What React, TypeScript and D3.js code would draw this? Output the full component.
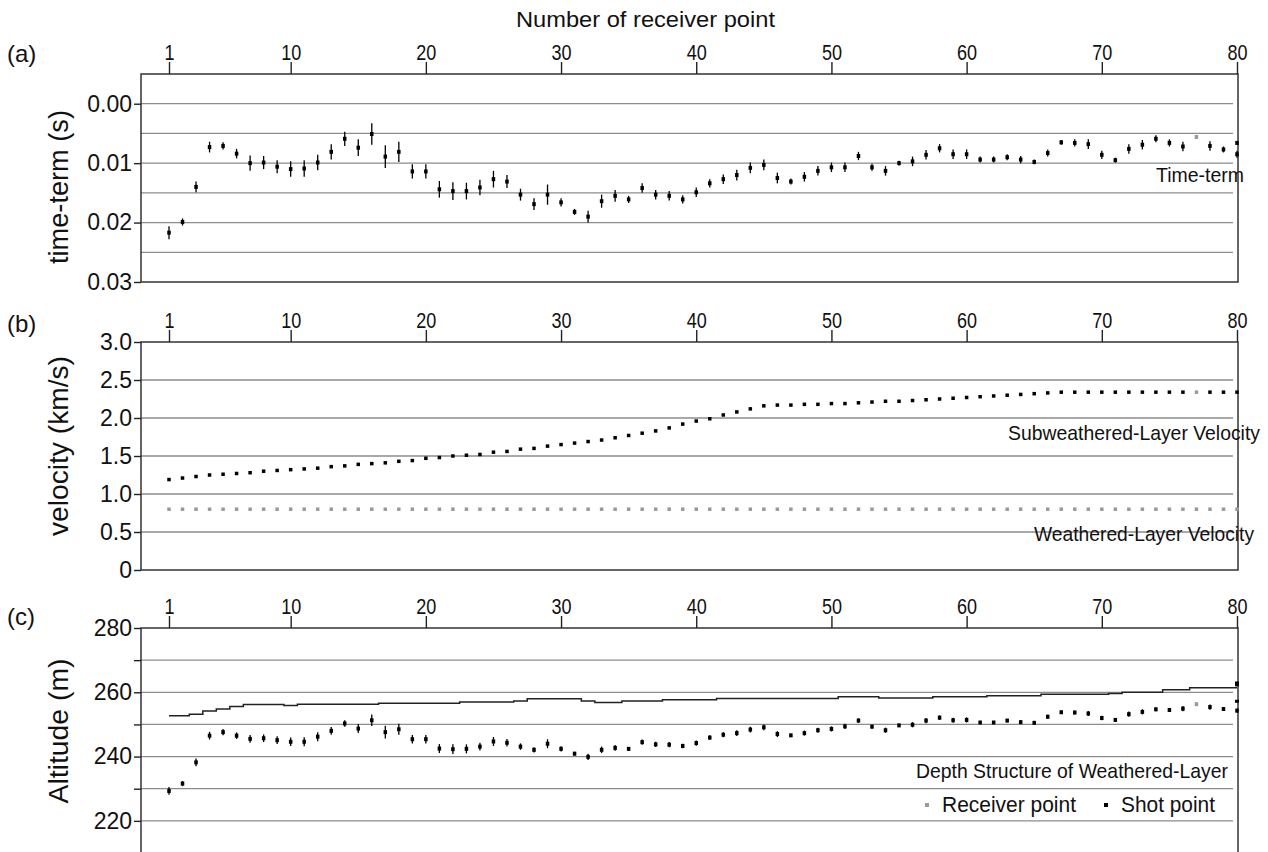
import React, { useRef, useEffect } from "react";
import * as d3 from "d3";

// receiver point numbers along the line
const receiverNo = d3.range(1, 81);
const topTicks = [1, 10, 20, 30, 40, 50, 60, 70, 80];

// (a) time-term (s) and its error
const timeTerm = [
  0.0217, 0.0199, 0.014, 0.0073, 0.0071, 0.0084, 0.01, 0.0099, 0.0106, 0.011,
  0.0109, 0.0099, 0.0081, 0.0059, 0.0074, 0.0051, 0.0089, 0.0081, 0.0114, 0.0114,
  0.0144, 0.0147, 0.0147, 0.0141, 0.0127, 0.0131, 0.0153, 0.0169, 0.0153, 0.0166,
  0.0182, 0.019, 0.0164, 0.0155, 0.0161, 0.0142, 0.0153, 0.0155, 0.0161, 0.0149,
  0.0134, 0.0127, 0.012, 0.0108, 0.0103, 0.0125, 0.0131, 0.0123, 0.0113, 0.0107,
  0.0107, 0.0088, 0.0107, 0.0113, 0.01, 0.0097, 0.0086, 0.0075, 0.0085, 0.0085,
  0.0094, 0.0094, 0.009, 0.0094, 0.0098, 0.0083, 0.0065, 0.0066, 0.0068, 0.0086,
  0.0095, 0.0076, 0.0069, 0.0059, 0.0066, 0.0072, 0.0056, 0.0071, 0.0077, 0.0085,
];
const timeTermErr = [
  0.0011, 0.0006, 0.0009, 0.0009, 0.0006, 0.0008, 0.0013, 0.0011, 0.0011, 0.0013,
  0.0014, 0.0013, 0.0013, 0.0012, 0.0014, 0.0018, 0.0019, 0.0017, 0.0012, 0.0012,
  0.0014, 0.0015, 0.0014, 0.0013, 0.0014, 0.0011, 0.001, 0.001, 0.0017, 0.0007,
  0.0005, 0.001, 0.0011, 0.001, 0.0006, 0.0008, 0.0008, 0.0008, 0.0007, 0.0008,
  0.0007, 0.0008, 0.0009, 0.0009, 0.0009, 0.0009, 0.0005, 0.0008, 0.0008, 0.0008,
  0.0008, 0.0007, 0.0006, 0.0008, 0.0004, 0.0008, 0.0008, 0.0007, 0.0008, 0.0008,
  0.0005, 0.0005, 0.0005, 0.0006, 0.0004, 0.0006, 0.0004, 0.0006, 0.0008, 0.0007,
  0.0004, 0.0008, 0.0008, 0.0006, 0.0006, 0.0008, 0, 0.0008, 0.0005, 0.0006,
];
const extraTimeTerm = [{ n: 80, v: 0.0066 }];

// (b) velocities (km/s)
const subweatheredVelocity = [
  1.19, 1.21, 1.23, 1.25, 1.26, 1.27, 1.28, 1.3, 1.31, 1.32,
  1.33, 1.34, 1.36, 1.37, 1.39, 1.4, 1.41, 1.43, 1.44, 1.47,
  1.48, 1.5, 1.51, 1.52, 1.55, 1.56, 1.59, 1.6, 1.63, 1.65,
  1.67, 1.69, 1.71, 1.74, 1.77, 1.8, 1.83, 1.87, 1.92, 1.96,
  1.99, 2.04, 2.08, 2.12, 2.16, 2.17, 2.17, 2.18, 2.18, 2.19,
  2.19, 2.2, 2.21, 2.22, 2.22, 2.23, 2.24, 2.25, 2.26, 2.27,
  2.28, 2.29, 2.3, 2.31, 2.32, 2.33, 2.34, 2.34, 2.34, 2.34,
  2.34, 2.34, 2.34, 2.34, 2.34, 2.34, 2.34, 2.34, 2.34, 2.34,
];
const weatheredVelocity = [
  0.8, 0.8, 0.8, 0.8, 0.8, 0.8, 0.8, 0.8, 0.8, 0.8,
  0.8, 0.8, 0.8, 0.8, 0.8, 0.8, 0.8, 0.8, 0.8, 0.8,
  0.8, 0.8, 0.8, 0.8, 0.8, 0.8, 0.8, 0.8, 0.8, 0.8,
  0.8, 0.8, 0.8, 0.8, 0.8, 0.8, 0.8, 0.8, 0.8, 0.8,
  0.8, 0.8, 0.8, 0.8, 0.8, 0.8, 0.8, 0.8, 0.8, 0.8,
  0.8, 0.8, 0.8, 0.8, 0.8, 0.8, 0.8, 0.8, 0.8, 0.8,
  0.8, 0.8, 0.8, 0.8, 0.8, 0.8, 0.8, 0.8, 0.8, 0.8,
  0.8, 0.8, 0.8, 0.8, 0.8, 0.8, 0.8, 0.8, 0.8, 0.8,
];

// (c) altitude (m): surface and base of weathered layer
const surfaceAltitude = [
  252.7, 252.7, 253.2, 254.2, 254.8, 255.6, 256.2, 256.2, 256.2, 255.9,
  256.3, 256.3, 256.3, 256.3, 256.3, 256.3, 256.6, 256.6, 256.6, 256.6,
  256.6, 256.6, 257.0, 257.0, 257.0, 257.0, 257.3, 258.0, 258.0, 258.0,
  258.0, 257.3, 256.8, 256.8, 257.3, 257.3, 257.3, 257.7, 257.7, 257.7,
  257.7, 258.1, 258.1, 258.1, 258.1, 258.1, 258.1, 258.1, 258.1, 258.1,
  258.6, 258.6, 258.6, 258.2, 258.2, 258.2, 258.2, 258.6, 258.6, 258.6,
  258.6, 258.9, 258.9, 258.9, 258.9, 259.4, 259.4, 259.4, 259.4, 259.4,
  259.6, 260.0, 260.0, 260.0, 260.8, 260.8, 261.4, 261.4, 261.4, 261.4,
];
const weatheredBase = [
  229.3, 231.6, 238.2, 246.5, 247.6, 246.5, 245.5, 245.7, 245.1, 244.6,
  244.6, 246.2, 248.0, 250.3, 248.7, 251.3, 247.6, 248.5, 245.4, 245.4,
  242.5, 242.3, 242.4, 243.1, 244.7, 244.3, 243.1, 242.1, 244.0, 242.4,
  240.9, 239.9, 242.1, 242.7, 242.4, 244.5, 243.8, 243.7, 243.3, 244.2,
  245.9, 246.8, 247.3, 248.4, 249.1, 247.0, 246.6, 247.3, 248.2, 248.6,
  249.4, 251.2, 249.3, 248.2, 249.7, 249.9, 251.2, 252.1, 251.3, 251.4,
  250.6, 250.6, 251.2, 250.7, 250.5, 252.4, 253.8, 253.7, 253.4, 252.0,
  251.4, 253.2, 253.9, 254.7, 254.5, 254.9, 256.3, 255.4, 254.8, 254.3,
];
const weatheredBaseErr = [
  1.2, 0.8, 1.2, 1.2, 1.0, 1.0, 1.2, 1.2, 1.2, 1.3,
  1.4, 1.4, 1.2, 1.0, 1.4, 1.8, 2.0, 1.7, 1.3, 1.3,
  1.4, 1.5, 1.4, 1.2, 1.4, 1.2, 1.0, 0.8, 1.4, 0.8,
  0.6, 1.0, 1.0, 0.9, 0.6, 0.8, 0.8, 0.8, 0.7, 0.8,
  0.7, 0.8, 0.9, 0.9, 0.9, 0.9, 0.5, 0.8, 0.8, 0.8,
  0.8, 0.7, 0.6, 0.8, 0.4, 0.8, 0.8, 0.7, 0.8, 0.8,
  0.5, 0.5, 0.5, 0.6, 0.4, 0.6, 0.4, 0.6, 0.8, 0.7,
  0.4, 0.8, 0.8, 0.6, 0.6, 0.8, 0, 0.8, 0.5, 0.6,
];
const extraAltitude = [{ n: 80, v: 257.2 }, { n: 80, v: 262.3 }, { n: 80, v: 262.9 }];

// points plotted as receiver points (grey); the rest are shot points
const receiverOnly = [77];

const SANS = "'Liberation Sans', Arial, sans-serif";
const GRID = "#8c8c8c";
const RECV = "#9a9a9a";

const App = () => {
  const svgRef = useRef(null);

  useEffect(() => {
    const svg = d3.select(svgRef.current);
    svg.selectAll("*").remove();

    const xLeft = 141;
    const xRight = 1238;
    const x = d3.scaleLinear().domain([1, 80]).range([169, 1237]);
    const colorOf = (n) => (receiverOnly.includes(n) ? RECV : "#000");

    // condensed-looking text: fixed width, anchored at its end or start
    const note = (g, str, xPos, yPos, len, anchor = "end", size = 21) =>
      g.append("text")
        .attr("x", anchor === "end" ? xPos - len : xPos)
        .attr("y", yPos)
        .attr("textLength", len)
        .attr("lengthAdjust", "spacingAndGlyphs")
        .attr("font-family", SANS)
        .attr("font-size", size)
        .attr("fill", "#111")
        .text(str);

    const drawPanel = (opts) => {
      const { y, top, bottom, grid, ticks, fmt, label, labelY, title, titleY, titleLen } = opts;
      const g = svg.append("g");

      g.selectAll(".grid")
        .data(grid)
        .enter()
        .append("line")
        .attr("x1", xLeft)
        .attr("x2", xRight - 5)
        .attr("y1", (d) => y(d))
        .attr("y2", (d) => y(d))
        .attr("stroke", GRID)
        .attr("stroke-width", 1.3);

      g.append("rect")
        .attr("x", xLeft)
        .attr("y", top)
        .attr("width", xRight - xLeft)
        .attr("height", bottom - top)
        .attr("fill", "none")
        .attr("stroke", "#333")
        .attr("stroke-width", 1.5);

      const ax = g
        .append("g")
        .attr("transform", `translate(0,${top})`)
        .call(d3.axisTop(x).tickValues(topTicks).tickSize(12).tickPadding(2));
      ax.select(".domain").remove();
      ax.selectAll("line").attr("stroke", "#222").attr("stroke-width", 1.4);
      ax.selectAll("text")
        .attr("font-family", SANS)
        .attr("font-size", 22)
        .attr("transform", "scale(0.82,1)")
        .attr("fill", "#111");

      const ay = g
        .append("g")
        .attr("transform", `translate(${xLeft},0)`)
        .call(d3.axisLeft(y).tickValues(ticks).tickSize(7).tickPadding(2).tickFormat(fmt));
      ay.select(".domain").remove();
      ay.selectAll("line").attr("stroke", "#222").attr("stroke-width", 1.4);
      ay.selectAll("text")
        .attr("font-family", SANS)
        .attr("font-size", 23)
        .attr("fill", "#111");

      svg.append("text")
        .attr("x", 7)
        .attr("y", labelY)
        .attr("font-family", SANS)
        .attr("font-size", 24)
        .attr("fill", "#111")
        .text(label);

      svg.append("text")
        .attr("transform", `translate(68,${titleY}) rotate(-90)`)
        .attr("x", -titleLen / 2)
        .attr("textLength", titleLen)
        .attr("lengthAdjust", "spacingAndGlyphs")
        .attr("font-family", SANS)
        .attr("font-size", 27)
        .attr("fill", "#111")
        .text(title);

      return g;
    };

    const drawMarkers = (g, data, y, w, h) => {
      g.append("g")
        .selectAll("rect")
        .data(data)
        .enter()
        .append("rect")
        .attr("x", (d) => x(d.n) - w / 2)
        .attr("y", (d) => y(d.v) - h / 2)
        .attr("width", w)
        .attr("height", h)
        .attr("fill", (d) => d.c || colorOf(d.n));
    };

    const drawErrors = (g, data, y) => {
      g.append("g")
        .selectAll("line")
        .data(data.filter((d) => d.e > 0))
        .enter()
        .append("line")
        .attr("x1", (d) => x(d.n))
        .attr("x2", (d) => x(d.n))
        .attr("y1", (d) => y(d.v - d.e))
        .attr("y2", (d) => y(d.v + d.e))
        .attr("stroke", "#000")
        .attr("stroke-width", 1.3);
    };

    // title
    note(svg, "Number of receiver point", 516, 27, 259, "start", 22);

    // (a) time-term
    const yA = d3.scaleLinear().domain([-0.005, 0.03]).range([74, 282]);
    const gA = drawPanel({
      y: yA,
      top: 74,
      bottom: 282,
      grid: [0, 0.005, 0.01, 0.015, 0.02, 0.025],
      ticks: [0, 0.01, 0.02, 0.03],
      fmt: d3.format(".2f"),
      label: "(a)",
      labelY: 62,
      title: "time-term (s)",
      titleY: 187,
      titleLen: 154,
    });
    const dataA = receiverNo.map((n, i) => ({ n, v: timeTerm[i], e: timeTermErr[i] }));
    drawErrors(gA, dataA, yA);
    drawMarkers(gA, dataA, yA, 3.5, 4);
    drawMarkers(gA, extraTimeTerm, yA, 3.5, 4);
    note(gA, "Time-term", 1244, 182, 88, "end", 20);

    // (b) velocities
    const yB = d3.scaleLinear().domain([0, 3]).range([570, 342]);
    const gB = drawPanel({
      y: yB,
      top: 342,
      bottom: 570,
      grid: [0.5, 1, 1.5, 2, 2.5],
      ticks: [0, 0.5, 1, 1.5, 2, 2.5, 3],
      fmt: (d) => (d === 0 ? "0" : d3.format(".1f")(d)),
      label: "(b)",
      labelY: 332,
      title: "velocity (km/s)",
      titleY: 446,
      titleLen: 180,
    });
    drawMarkers(
      gB,
      receiverNo.map((n, i) => ({ n, v: weatheredVelocity[i], c: RECV })),
      yB,
      3.5,
      3.5
    );
    drawMarkers(
      gB,
      receiverNo.map((n, i) => ({ n, v: subweatheredVelocity[i] })),
      yB,
      3.5,
      3.5
    );
    note(gB, "Subweathered-Layer Velocity", 1260, 440, 252);
    note(gB, "Weathered-Layer Velocity", 1254, 541, 220);

    // (c) altitude
    const yC = d3.scaleLinear().domain([210, 280]).range([853, 628]);
    const gC = drawPanel({
      y: yC,
      top: 628,
      bottom: 853,
      grid: [220, 230, 240, 250, 260, 270],
      ticks: [220, 230, 240, 250, 260, 270, 280],
      fmt: (d) => (d % 20 === 0 ? String(d) : ""),
      label: "(c)",
      labelY: 625,
      title: "Altitude (m)",
      titleY: 731,
      titleLen: 145,
    });
    const surfaceLine = d3
      .line()
      .x((d, i) => x(receiverNo[i]))
      .y((d) => yC(d))
      .curve(d3.curveStep);
    gC.append("path")
      .attr("d", surfaceLine(surfaceAltitude))
      .attr("fill", "none")
      .attr("stroke", "#222")
      .attr("stroke-width", 1.5);
    const dataC = receiverNo.map((n, i) => ({ n, v: weatheredBase[i], e: weatheredBaseErr[i] }));
    drawErrors(gC, dataC, yC);
    drawMarkers(gC, dataC, yC, 3.5, 4);
    drawMarkers(gC, extraAltitude, yC, 4, 3);

    note(gC, "Depth Structure of Weathered-Layer", 1228, 778, 312);

    // legend
    const legend = [
      { label: "Receiver point", color: RECV, x: 927, len: 134 },
      { label: "Shot point", color: "#000", x: 1106, len: 94 },
    ];
    legend.forEach((d) => {
      gC.append("rect")
        .attr("x", d.x - 2)
        .attr("y", 803)
        .attr("width", 4)
        .attr("height", 4)
        .attr("fill", d.color);
      note(gC, d.label, d.x + 15, 812, d.len, "start", 22);
    });
  }, []);

  return (
    <svg
      ref={svgRef}
      width={1268}
      height={852}
      style={{ position: "absolute", left: 0, top: 0, background: "#fff" }}
    ></svg>
  );
};

export default App;
